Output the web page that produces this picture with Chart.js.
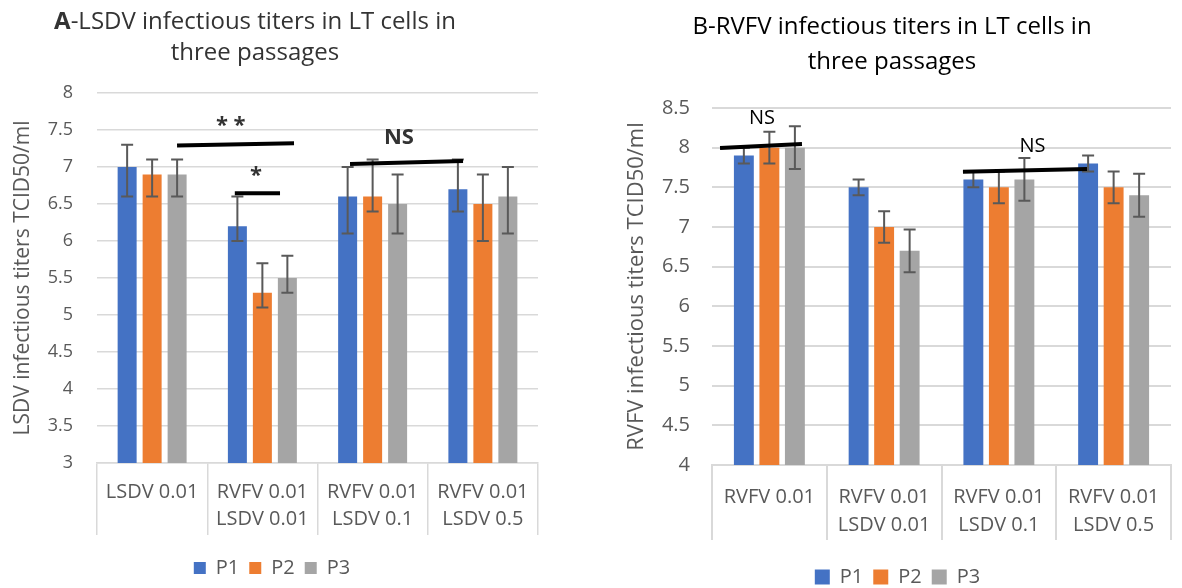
<!DOCTYPE html>
<html>
<head>
<meta charset="utf-8">
<title>LSDV / RVFV infectious titers</title>
<script src="https://cdn.jsdelivr.net/npm/chart.js@4.4.1/dist/chart.umd.min.js"></script>
<style>
  body { margin: 0; background: #fff; overflow: hidden; }
  #wrap { position: relative; width: 1182px; height: 588px; overflow: hidden; }
  #boxA { position: absolute; left: 0; top: 0; }
  #boxB { position: absolute; left: 600px; top: 0; }
</style>
</head>
<body>
<div id="wrap">
  <div id="boxA"><canvas id="chartA" width="590" height="610"></canvas></div>
  <div id="boxB"><canvas id="chartB" width="582" height="610"></canvas></div>
</div>
<script>
// ---- data ----
const passages = ['P1', 'P2', 'P3'];
const passageColors = ['#4472C4', '#ED7D31', '#A5A5A5'];

// A - LSDV titers
const labelsA = [['LSDV 0.01'], ['RVFV 0.01', 'LSDV 0.01'], ['RVFV 0.01', 'LSDV 0.1'], ['RVFV 0.01', 'LSDV 0.5']];
const lsdvP1 = [7.0, 6.2, 6.6, 6.7];
const lsdvP2 = [6.9, 5.3, 6.6, 6.5];
const lsdvP3 = [6.9, 5.5, 6.5, 6.6];
const lsdvP1Hi = [7.3, 6.6, 7.0, 7.1];
const lsdvP1Lo = [6.6, 6.0, 6.1, 6.4];
const lsdvP2Hi = [7.1, 5.7, 7.1, 6.9];
const lsdvP2Lo = [6.6, 5.1, 6.4, 6.0];
const lsdvP3Hi = [7.1, 5.8, 6.9, 7.0];
const lsdvP3Lo = [6.6, 5.3, 6.1, 6.1];

// B - RVFV titers
const labelsB = [['RVFV 0.01'], ['RVFV 0.01', 'LSDV 0.01'], ['RVFV 0.01', 'LSDV 0.1'], ['RVFV 0.01', 'LSDV 0.5']];
const rvfvP1 = [7.9, 7.5, 7.6, 7.8];
const rvfvP2 = [8.0, 7.0, 7.5, 7.5];
const rvfvP3 = [8.0, 6.7, 7.6, 7.4];
const rvfvP1Hi = [8.0, 7.6, 7.7, 7.9];
const rvfvP1Lo = [7.8, 7.4, 7.5, 7.7];
const rvfvP2Hi = [8.2, 7.2, 7.7, 7.7];
const rvfvP2Lo = [7.8, 6.8, 7.3, 7.3];
const rvfvP3Hi = [8.27, 6.97, 7.87, 7.67];
const rvfvP3Lo = [7.73, 6.43, 7.33, 7.13];

// significance marks, in data units (x = category index, y = titer)
const sigLinesA = [[0.226, 7.29, 1.287, 7.32], [0.75, 6.645, 1.16, 6.645], [1.795, 7.04, 2.82, 7.08]];
const sigTextA = [['* *', 0.713, 7.564], ['*', 0.942, 6.876], ['NS', 2.239, 7.40]];
const sigLinesB = [[-0.43, 7.996, 0.284, 8.046], [1.687, 7.697, 2.768, 7.731]];
const sigTextB = [['NS', -0.064, 8.37], ['NS', 2.293, 8.012]];

const FONT = "'Open Sans', 'Noto Sans', sans-serif";

// ---- plugins ----
const errorBars = {
  id: 'errorBars',
  afterDatasetsDraw(chart, args, opts) {
    const { ctx, scales: { y } } = chart;
    ctx.save();
    ctx.strokeStyle = opts.color;
    ctx.lineWidth = opts.width;
    chart.data.datasets.forEach((ds, i) => {
      chart.getDatasetMeta(i).data.forEach((bar, j) => {
        const x = bar.x;
        const top = y.getPixelForValue(ds.errHi[j]);
        const bot = y.getPixelForValue(ds.errLo[j]);
        ctx.beginPath();
        ctx.moveTo(x, top); ctx.lineTo(x, bot);
        ctx.moveTo(x - opts.cap, top); ctx.lineTo(x + opts.cap, top);
        ctx.moveTo(x - opts.cap, bot); ctx.lineTo(x + opts.cap, bot);
        ctx.stroke();
      });
    });
    ctx.restore();
  }
};

const sigMarks = {
  id: 'sigMarks',
  afterDatasetsDraw(chart, args, opts) {
    const { ctx, scales: { x, y } } = chart;
    ctx.save();
    ctx.strokeStyle = '#000';
    ctx.lineWidth = opts.lineWidth;
    opts.lines.forEach(l => {
      ctx.beginPath();
      ctx.moveTo(x.getPixelForValue(l[0]), y.getPixelForValue(l[1]));
      ctx.lineTo(x.getPixelForValue(l[2]), y.getPixelForValue(l[3]));
      ctx.stroke();
    });
    ctx.textAlign = 'center';
    ctx.textBaseline = 'middle';
    opts.texts.forEach(t => {
      ctx.font = t[0] === 'NS' ? opts.nsFont : opts.starFont;
      ctx.fillStyle = opts.textColor;
      ctx.fillText(t[0], x.getPixelForValue(t[1]), y.getPixelForValue(t[2]));
    });
    ctx.restore();
  }
};

// two-line title, first piece may be bold
const splitTitle = {
  id: 'splitTitle',
  afterDraw(chart, args, opts) {
    const { ctx } = chart;
    ctx.save();
    ctx.textBaseline = 'middle';
    ctx.textAlign = 'left';
    ctx.fillStyle = opts.color;
    opts.lines.forEach((parts, li) => {
      let total = 0;
      parts.forEach(p => {
        ctx.font = (p[1] ? 'bold ' : '') + opts.size + 'px ' + FONT;
        total += ctx.measureText(p[0]).width;
      });
      let cx = opts.x - total / 2;
      parts.forEach(p => {
        ctx.font = (p[1] ? 'bold ' : '') + opts.size + 'px ' + FONT;
        ctx.fillText(p[0], cx, opts.y[li]);
        cx += ctx.measureText(p[0]).width;
      });
    });
    ctx.restore();
  }
};

function makeSets(vals, his, los) {
  return passages.map((p, i) => ({
    label: p,
    data: vals[i],
    errHi: his[i],
    errLo: los[i],
    backgroundColor: passageColors[i],
    borderWidth: 0
  }));
}

function buildChart(id, cfg) {
  return new Chart(document.getElementById(id), {
    type: 'bar',
    data: { labels: cfg.labels, datasets: cfg.datasets },
    plugins: [errorBars, sigMarks, splitTitle],
    options: {
      responsive: false,
      animation: false,
      devicePixelRatio: 1,
      categoryPercentage: cfg.catPct,
      barPercentage: cfg.barPct,
      layout: { padding: cfg.padding },
      scales: {
        x: {
          grid: { drawOnChartArea: false, offset: true, tickLength: cfg.tickLength, color: '#d9d9d9', lineWidth: cfg.gridWidth },
          border: { display: true, color: '#d9d9d9', width: cfg.gridWidth },
          ticks: {
            color: '#595959', autoSkip: false, maxRotation: 0, padding: cfg.xPad,
            font: { family: FONT, size: cfg.xFont, lineHeight: cfg.xLine }
          },
          afterFit(s) { s.height = cfg.xHeight; }
        },
        y: {
          min: cfg.min, max: cfg.max,
          ticks: {
            stepSize: 0.5, color: '#595959', padding: cfg.yPad, font: { family: FONT, size: cfg.yFont },
            callback: v => String(Math.round(v * 10) / 10)
          },
          grid: { drawTicks: false, color: '#d9d9d9', lineWidth: cfg.gridWidth },
          border: { display: false },
          title: {
            display: true, text: cfg.yTitle, color: '#595959',
            font: { family: FONT, size: cfg.yTitleSize }, padding: { top: cfg.yTitlePad, bottom: 0 }
          },
          afterFit(s) { s.width = cfg.yWidth; }
        }
      },
      plugins: {
        legend: {
          position: 'bottom',
          labels: { boxWidth: cfg.box, boxHeight: cfg.box, padding: 10, color: '#595959', font: { family: FONT, size: 20 } }
        },
        tooltip: { enabled: false },
        errorBars: { color: '#595959', width: 2, cap: 6 },
        sigMarks: cfg.sig,
        splitTitle: cfg.title
      }
    }
  });
}

buildChart('chartA', {
  labels: labelsA,
  datasets: makeSets([lsdvP1, lsdvP2, lsdvP3], [lsdvP1Hi, lsdvP2Hi, lsdvP3Hi], [lsdvP1Lo, lsdvP2Lo, lsdvP3Lo]),
  catPct: 0.68, barPct: 0.76,
  padding: { left: 6, right: 52, top: 93, bottom: 22 },
  tickLength: 72, xHeight: 85, xPad: -56, xFont: 20, xLine: 1.35, gridWidth: 1.5,
  min: 3, max: 8, yPad: 24, yFont: 18, yWidth: 91,
  yTitle: 'LSDV infectious titers TCID50/ml', yTitleSize: 21, yTitlePad: 4,
  box: 12,
  sig: { lines: sigLinesA, texts: sigTextA, lineWidth: 4, textColor: '#333',
         nsFont: 'bold 22px ' + FONT, starFont: 'bold 22px ' + FONT },
  title: { lines: [[['A', true], ['-LSDV infectious titers in LT cells in', false]], [['three passages', false]]],
           x: 255, y: [22, 53], size: 24, color: '#333' }
});

buildChart('chartB', {
  labels: labelsB,
  datasets: makeSets([rvfvP1, rvfvP2, rvfvP3], [rvfvP1Hi, rvfvP2Hi, rvfvP3Hi], [rvfvP1Lo, rvfvP2Lo, rvfvP3Lo]),
  catPct: 0.667, barPct: 0.78,
  padding: { left: 24, right: 11, top: 108, bottom: 13 },
  tickLength: 75, xHeight: 92, xPad: -57, xFont: 20, xLine: 1.4, gridWidth: 2,
  min: 4, max: 8.5, yPad: 22, yFont: 20, yWidth: 88,
  yTitle: 'RVFV infectious titers TCID50/ml', yTitleSize: 22, yTitlePad: 0,
  box: 15,
  sig: { lines: sigLinesB, texts: sigTextB, lineWidth: 4, textColor: '#000',
         nsFont: '20px ' + FONT, starFont: '20px ' + FONT },
  title: { lines: [[['B-RVFV infectious titers in LT cells in', false]], [['three passages', false]]],
           x: 292, y: [27, 62], size: 24, color: '#000' }
});
</script>
</body>
</html>
